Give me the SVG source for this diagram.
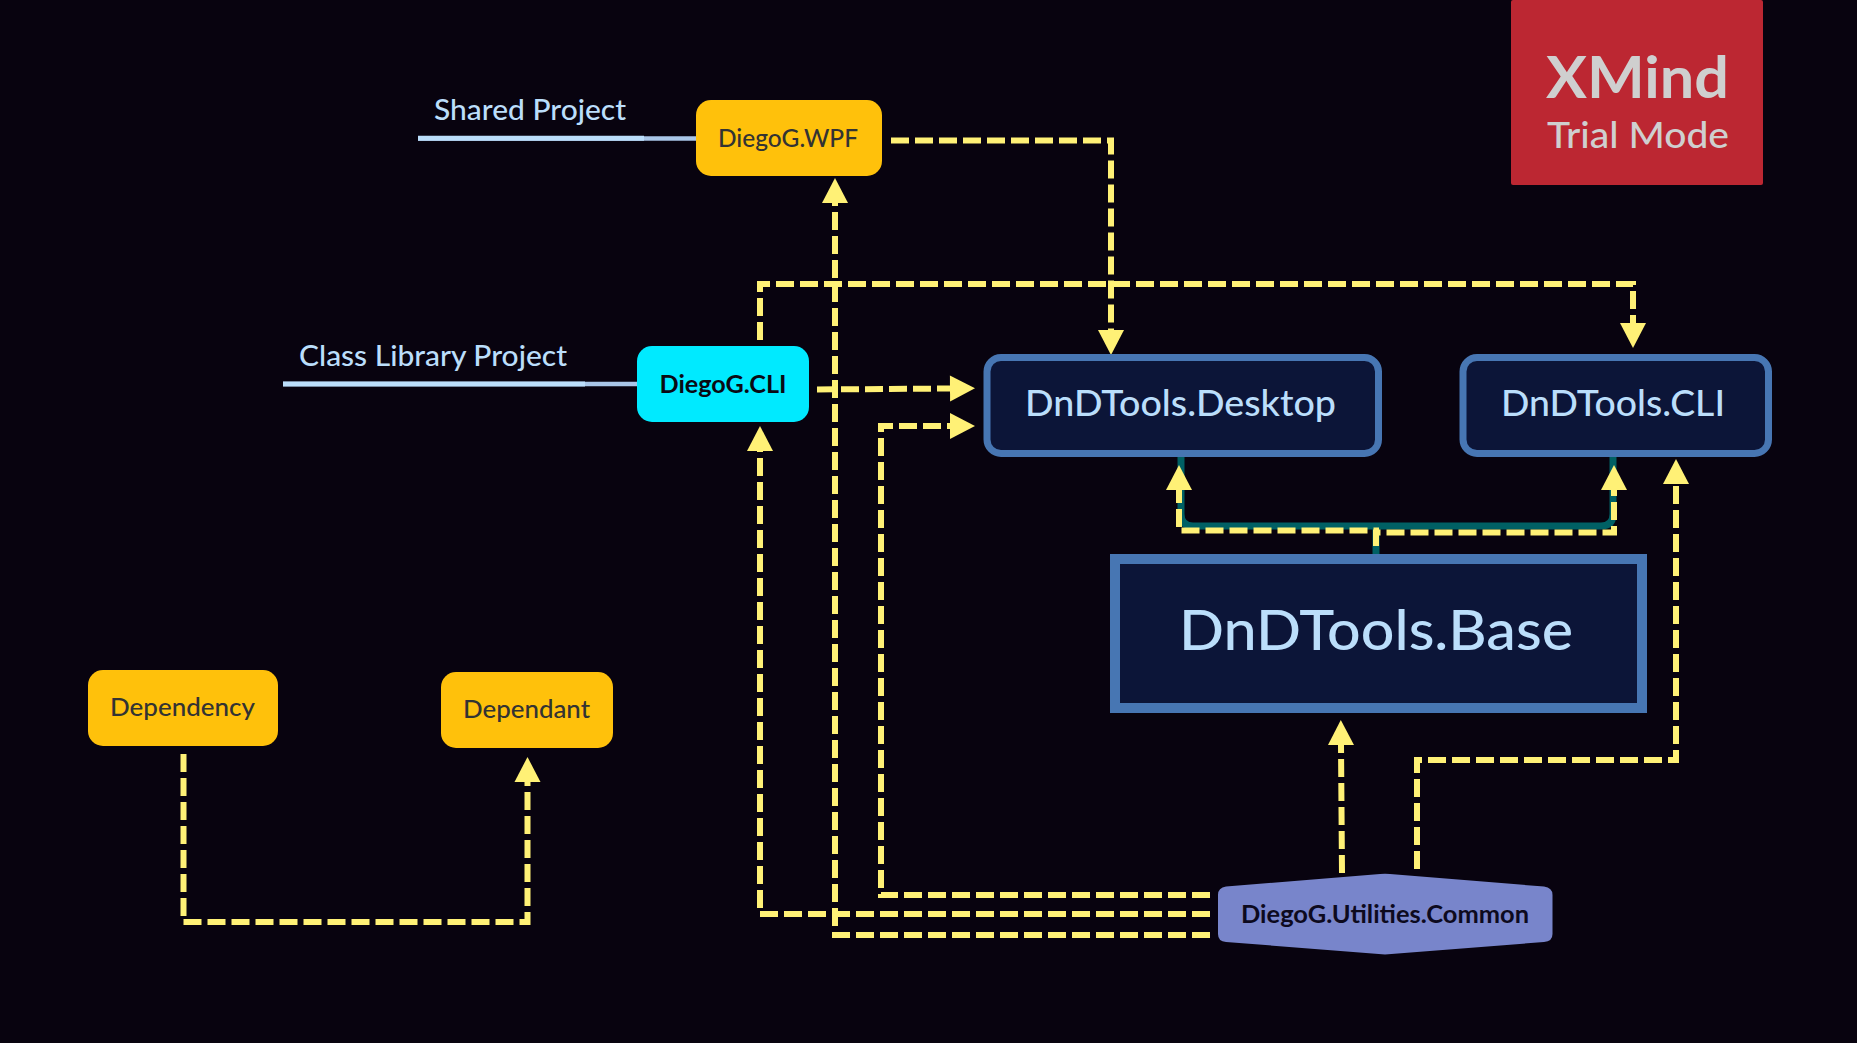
<svg xmlns="http://www.w3.org/2000/svg" width="1857" height="1043" viewBox="0 0 1857 1043">
<defs>
<style>
text{font-family:"Lato","Liberation Sans",sans-serif;text-anchor:start}
.yl{fill:#ffc10b}
.dk{fill:#0c1538;stroke:#4776b3}
.dep{fill:none;stroke:#fff176;stroke-width:6;stroke-dasharray:18 6}
.teal{fill:none;stroke:#006064;stroke-width:7}
.lbl{fill:#bbdefb;font-size:28px;font-weight:500}
.ytx{fill:#333;font-size:24px;font-weight:500}
.dtx{fill:#bbdefb;font-size:36px;font-weight:500}
</style>
<marker id="arr" markerUnits="userSpaceOnUse" markerWidth="28" markerHeight="28" refX="1" refY="14" orient="auto" overflow="visible">
<path d="M1 1L26 14L1 27Z" fill="#fff176"/>
</marker>
</defs>
<rect width="1857" height="1043" fill="#08030f"/>
<g id="connectors">
<path d="M418 138.500H696" stroke="#a9c6e8" stroke-width="4.500" fill="none"/>
<path d="M418 138.300H644" stroke="#bbdefb" stroke-width="5" fill="none"/>
<path d="M283 384H637" stroke="#a9c6e8" stroke-width="4.500" fill="none"/>
<path d="M283 384H585" stroke="#bbdefb" stroke-width="5" fill="none"/>
<path class="teal" d="M1376 554V526M1181 457V514Q1181 526 1193 526H1601Q1613 526 1613 514V457"/>
<path class="dep" d="M891 140.500H1111V330" marker-end="url(#arr)"/>
<path class="dep" d="M760 340V284H1633V323" marker-end="url(#arr)"/>
<path class="dep" d="M817 389.500L950 388.500" marker-end="url(#arr)"/>
<path class="dep" d="M1210 895H881V426H950" marker-end="url(#arr)"/>
<path class="dep" d="M1210 914H760V451" marker-end="url(#arr)"/>
<path class="dep" d="M1210 935H835V203" marker-end="url(#arr)"/>
<path class="dep" d="M1342 873L1341 745" marker-end="url(#arr)"/>
<path class="dep" d="M1417 869V760H1676V484" marker-end="url(#arr)"/>
<path class="dep" d="M1376 546V530.500H1179V490" marker-end="url(#arr)"/>
<path class="dep" d="M1376 546V532.500H1614V490" marker-end="url(#arr)"/>
<path class="dep" d="M183.500 754V922H527.500V782" marker-end="url(#arr)"/>
</g>
<g id="label-shared"><text class="lbl" x="434" y="120" textLength="192" lengthAdjust="spacingAndGlyphs">Shared Project</text></g>
<g id="label-classlib"><text class="lbl" x="299" y="366" textLength="268" lengthAdjust="spacingAndGlyphs">Class Library Project</text></g>
<g id="node-wpf"><rect class="yl" x="696" y="100" width="186" height="76" rx="15"/><text class="ytx" x="718" y="146.500" textLength="140" lengthAdjust="spacingAndGlyphs">DiegoG.WPF</text></g>
<g id="node-cli"><rect fill="#00eaff" x="637" y="346" width="172" height="76" rx="15"/><text fill="#0a0a14" font-weight="700" font-size="24" x="659.500" y="393" textLength="127" lengthAdjust="spacingAndGlyphs">DiegoG.CLI</text></g>
<g id="node-desktop"><rect class="dk" stroke-width="7" x="987" y="357.500" width="391.500" height="96" rx="14"/><text class="dtx" x="1025" y="416" textLength="311" lengthAdjust="spacingAndGlyphs">DnDTools.Desktop</text></g>
<g id="node-dndcli"><rect class="dk" stroke-width="7" x="1463" y="357.500" width="305.500" height="96" rx="14"/><text class="dtx" x="1501" y="416" textLength="224" lengthAdjust="spacingAndGlyphs">DnDTools.CLI</text></g>
<g id="node-base"><rect class="dk" stroke-width="10" x="1115" y="559" width="527" height="149"/><text fill="#bbdefb" font-weight="500" font-size="56" x="1179" y="650" textLength="394" lengthAdjust="spacingAndGlyphs">DnDTools.Base</text></g>
<g id="node-common"><path fill="#7885cb" d="M1226 886.500L1380 874Q1385 873.700 1390 874L1544 886.500Q1552.500 887.500 1552.500 895V934Q1552.500 941.500 1544 942L1385 954.500L1226 942Q1218 941.500 1218 934V895Q1218 887.500 1226 886.500Z"/><text fill="#0d0a1e" font-weight="700" font-size="24" x="1241" y="922.500" textLength="288" lengthAdjust="spacingAndGlyphs">DiegoG.Utilities.Common</text></g>
<g id="node-dependency"><rect class="yl" x="88" y="670" width="190" height="76" rx="15"/><text class="ytx" x="110" y="716" textLength="145" lengthAdjust="spacingAndGlyphs">Dependency</text></g>
<g id="node-dependant"><rect class="yl" x="441" y="672" width="172" height="76" rx="15"/><text class="ytx" x="463" y="718" textLength="127" lengthAdjust="spacingAndGlyphs">Dependant</text></g>
<g id="watermark"><rect fill="#bc2732" x="1511" y="0" width="252" height="185" rx="2"/><text fill="#cfcfcf" font-weight="700" font-size="58" x="1546" y="98" textLength="183" lengthAdjust="spacingAndGlyphs">XMind</text><text fill="#cfcfcf" font-weight="500" font-size="36" x="1547" y="148" textLength="182" lengthAdjust="spacingAndGlyphs">Trial Mode</text></g>
</svg>
